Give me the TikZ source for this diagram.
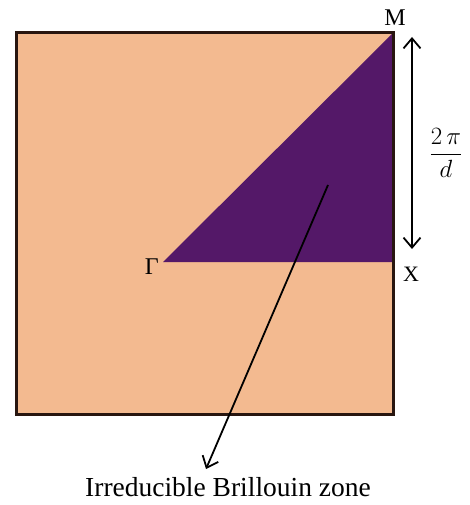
\documentclass[tikz,border=0pt]{standalone}
\usepackage{fontspec}
\setmainfont{Liberation Serif}
\usetikzlibrary{arrows.meta}
\definecolor{peach}{RGB}{243,186,144}
\definecolor{ibz}{RGB}{84,24,104}
\definecolor{frame}{RGB}{40,22,16}
\tikzset{
  lbl/.style={inner sep=0pt, font=\fontsize{24}{24}\selectfont},
  arr/.style={line width=1.8pt, -{Straight Barb[length=10pt,width=17pt,line width=1.8pt]}},
  dbl/.style={line width=1.8pt, {Straight Barb[length=10pt,width=17pt,line width=1.8pt]}-{Straight Barb[length=10pt,width=17pt,line width=1.8pt]}}
}
\begin{document}
\begin{tikzpicture}[x=1pt,y=-1pt]
\useasboundingbox (0,0) rectangle (470,505);
\coordinate (SQ1) at (16,33);
\coordinate (SQ2) at (393,414);
\coordinate (G) at (163,262);
\coordinate (X) at (393,262);
\coordinate (M) at (393,33);
\fill[peach] (SQ1) rectangle (SQ2);
\fill[ibz] (G) -- (X) -- (M) -- cycle;
\draw[frame, line width=3pt] (SQ1) rectangle (SQ2);
\node[lbl, anchor=base east] (gl) at (159,274) {Γ};
\node[lbl, anchor=base, font=\fontsize{22}{22}\selectfont] (xl) at (411,281) {X};
\node[lbl, anchor=base] (ml) at (395,26) {M};
\coordinate (da) at (412,37);
\coordinate (db) at (412,249);
\draw[dbl] (da) -- (db);
\node[lbl, font=\fontsize{24}{24}\selectfont] (frac) at (446,153) {$\displaystyle\frac{2\,\pi}{d}$};
\coordinate (as) at (328,185);
\node[lbl, anchor=base, font=\fontsize{27.5}{27.5}\selectfont] (cap) at (228,496) {Irreducible Brillouin zone};
\coordinate (at) at (206,469);
\draw[arr] (as) -- (at);
\end{tikzpicture}
\end{document}
